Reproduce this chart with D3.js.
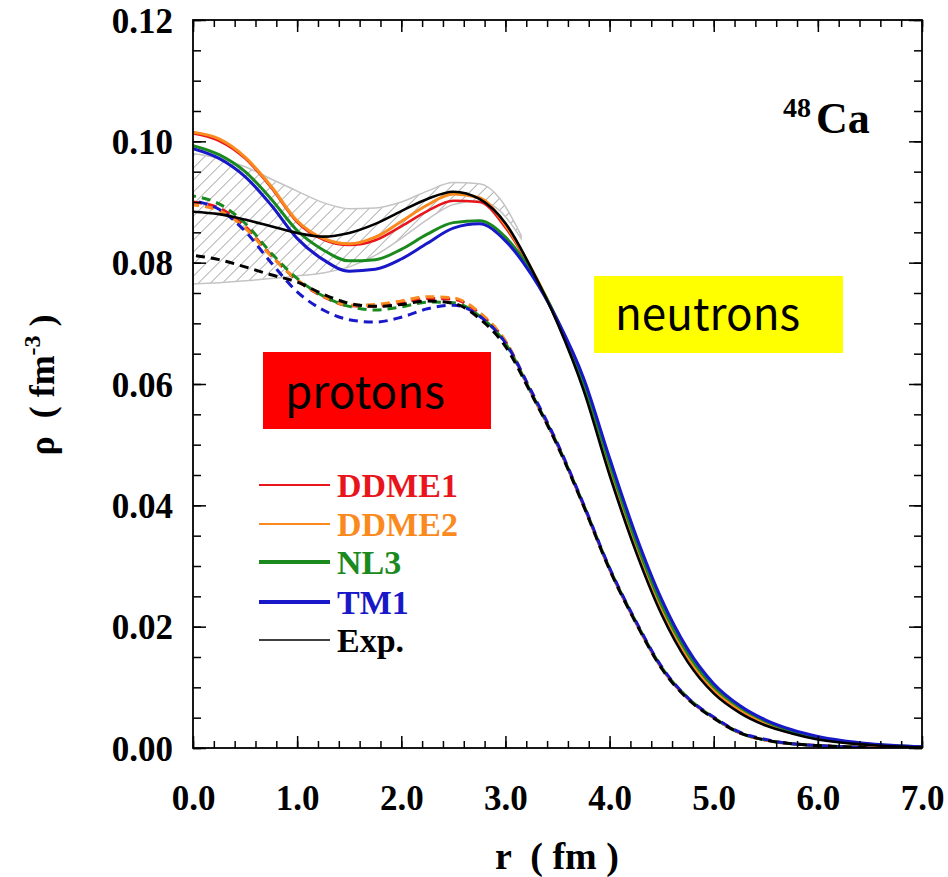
<!DOCTYPE html>
<html lang="en">
<head>
<meta charset="UTF-8">
<title>48Ca densities</title>
<script src="https://cdn.jsdelivr.net/npm/d3@7"></script>
<style>
  body { margin: 0; background: #fff; }
  .serif { font-family: "Liberation Serif", "Times New Roman", serif; font-weight: bold; }
  .tick text { font-family: "Liberation Serif", "Times New Roman", serif; font-weight: bold; font-size: 35px; fill: #000; }
</style>
</head>
<body>
<svg id="svg"></svg>
<script>
// radius grid (fm)
var rGrid = [0, 0.25, 0.5, 0.75, 1.0, 1.25, 1.5, 1.75, 2.0, 2.25, 2.5, 2.75, 3.0, 3.25,
             3.5, 3.75, 4.0, 4.25, 4.5, 4.75, 5.0, 5.25, 5.5, 5.75, 6.0, 6.5, 7.0];

// neutron densities (solid)
var nDDME1 = [0.1013, 0.1001, 0.0972, 0.0924, 0.0867, 0.0838, 0.0829, 0.0837, 0.0860, 0.0885, 0.0902, 0.0900, 0.0858, 0.0788,
              0.0702, 0.0594, 0.0457, 0.0334, 0.0229, 0.0149, 0.0095, 0.0062, 0.0040, 0.0026, 0.0016, 0.0005, 0.0001];
var nDDME2 = [0.1015, 0.1004, 0.0974, 0.0926, 0.0869, 0.0840, 0.0831, 0.0842, 0.0868, 0.0895, 0.0913, 0.0907, 0.0862, 0.0790,
              0.0703, 0.0595, 0.0458, 0.0335, 0.0230, 0.0150, 0.0096, 0.0063, 0.0041, 0.0026, 0.0016, 0.0005, 0.0001];
var nNL3   = [0.0993, 0.0978, 0.0950, 0.0905, 0.0853, 0.0821, 0.0803, 0.0805, 0.0822, 0.0847, 0.0866, 0.0869, 0.0842, 0.0785,
              0.0705, 0.0602, 0.0468, 0.0342, 0.0236, 0.0156, 0.0101, 0.0067, 0.0044, 0.0028, 0.0017, 0.0006, 0.0002];
var nTM1   = [0.0988, 0.0972, 0.0942, 0.0895, 0.0840, 0.0805, 0.0786, 0.0789, 0.0806, 0.0832, 0.0857, 0.0864, 0.0836, 0.0780,
              0.0705, 0.0610, 0.0478, 0.0352, 0.0245, 0.0163, 0.0106, 0.0070, 0.0046, 0.0030, 0.0019, 0.0007, 0.0002];
var nExp   = [0.0884, 0.0880, 0.0871, 0.0860, 0.0849, 0.0843, 0.0849, 0.0864, 0.0885, 0.0905, 0.0917, 0.0905, 0.0865, 0.0790,
              0.0700, 0.0590, 0.0450, 0.0325, 0.0220, 0.0142, 0.0090, 0.0058, 0.0037, 0.0024, 0.0014, 0.0005, 0.0001];

// proton densities (dashed)
var pDDME1 = [0.0900, 0.0890, 0.0860, 0.0812, 0.0771, 0.0744, 0.0729, 0.0728, 0.0734, 0.0741, 0.0740, 0.0716, 0.0670, 0.0585,
              0.0500, 0.0400, 0.0295, 0.0208, 0.0132, 0.0082, 0.0050, 0.0025, 0.0013, 0.0007, 0.0004, 0.0001, 0.0000];
var pDDME2 = [0.0895, 0.0886, 0.0857, 0.0811, 0.0772, 0.0745, 0.0730, 0.0731, 0.0737, 0.0744, 0.0742, 0.0718, 0.0671, 0.0586,
              0.0500, 0.0400, 0.0295, 0.0208, 0.0132, 0.0082, 0.0050, 0.0025, 0.0013, 0.0007, 0.0004, 0.0001, 0.0000];
var pNL3   = [0.0910, 0.0897, 0.0865, 0.0816, 0.0774, 0.0745, 0.0728, 0.0722, 0.0727, 0.0735, 0.0734, 0.0712, 0.0667, 0.0585,
              0.0500, 0.0401, 0.0296, 0.0209, 0.0133, 0.0083, 0.0050, 0.0025, 0.0013, 0.0007, 0.0004, 0.0001, 0.0000];
var pTM1   = [0.0902, 0.0888, 0.0852, 0.0800, 0.0752, 0.0722, 0.0706, 0.0702, 0.0710, 0.0724, 0.0730, 0.0712, 0.0668, 0.0588,
              0.0502, 0.0402, 0.0297, 0.0210, 0.0134, 0.0083, 0.0051, 0.0026, 0.0014, 0.0007, 0.0004, 0.0001, 0.0000];
var pExp   = [0.0812, 0.0805, 0.0793, 0.0780, 0.0768, 0.0748, 0.0733, 0.0728, 0.0731, 0.0737, 0.0733, 0.0708, 0.0662, 0.0583,
              0.0498, 0.0399, 0.0294, 0.0207, 0.0131, 0.0081, 0.0049, 0.0025, 0.0013, 0.0007, 0.0004, 0.0001, 0.0000];

// experimental neutron band (hatched)
var bandR     = [0, 0.25, 0.5, 0.75, 1.0, 1.25, 1.5, 1.75, 2.0, 2.25, 2.5, 2.75, 2.95, 3.15];
var bandUpper = [0.0980, 0.0972, 0.0958, 0.0938, 0.0918, 0.0899, 0.0889, 0.0890, 0.0900, 0.0918, 0.0932, 0.0930, 0.0905, 0.0845];
var bandLower = [0.0765, 0.0767, 0.0770, 0.0774, 0.0778, 0.0783, 0.0793, 0.0812, 0.0840, 0.0871, 0.0896, 0.0902, 0.0885, 0.0840];

var models = ["DDME1", "DDME2", "NL3", "TM1", "Exp."];
var colors = ["#e8161c", "#fb8a1e", "#1a8a1e", "#1818c8", "#000000"];
var neutrons = [nDDME1, nDDME2, nNL3, nTM1, nExp];
var protons = [pDDME1, pDDME2, pNL3, pTM1, pExp];

var xTicks = [0, 1, 2, 3, 4, 5, 6, 7];
var yTicks = [0, 0.02, 0.04, 0.06, 0.08, 0.10, 0.12];

var w = 948, h = 877,
    pLeft = 193, pRight = 922, pTop = 20, pBottom = 748;

var svg = d3.select("#svg").attr("width", w).attr("height", h);

var x = d3.scaleLinear().domain([0, 7]).range([pLeft, pRight]);
var y = d3.scaleLinear().domain([0, 0.12]).range([pBottom, pTop]);

var defs = svg.append("defs");
defs.append("clipPath").attr("id", "clip")
  .append("rect").attr("x", pLeft).attr("y", pTop)
  .attr("width", pRight - pLeft).attr("height", pBottom - pTop);
var pat = defs.append("pattern").attr("id", "hatch")
  .attr("patternUnits", "userSpaceOnUse")
  .attr("width", 8.5).attr("height", 8.5)
  .attr("patternTransform", "rotate(45)");
pat.append("line").attr("x1", 0).attr("y1", 0).attr("x2", 0).attr("y2", 8.5)
  .attr("stroke", "#8a8a8a").attr("stroke-width", 1.3);

var plot = svg.append("g").attr("clip-path", "url(#clip)");

// hatched band
var area = d3.area()
  .x(function(d, i) { return x(bandR[i]); })
  .y0(function(d, i) { return y(bandLower[i]); })
  .y1(function(d, i) { return y(bandUpper[i]); })
  .curve(d3.curveMonotoneX);
plot.append("path").datum(bandR)
  .attr("d", area)
  .attr("fill", "url(#hatch)")
  .attr("stroke", "#c4c4c4").attr("stroke-width", 1.5);

var line = d3.line()
  .x(function(d, i) { return x(rGrid[i]); })
  .y(function(d) { return y(d); })
  .curve(d3.curveMonotoneX);

// protons: dashed
protons.forEach(function(vals, i) {
  plot.append("path").datum(vals)
    .attr("d", line)
    .attr("fill", "none")
    .attr("stroke", colors[i])
    .attr("stroke-width", 3)
    .attr("stroke-dasharray", "9,6")
    .attr("stroke-dashoffset", i * 3);
});

// neutrons: solid
var widths = [2.6, 3, 3, 3, 2.6];
neutrons.forEach(function(vals, i) {
  plot.append("path").datum(vals)
    .attr("d", line)
    .attr("fill", "none")
    .attr("stroke", colors[i])
    .attr("stroke-width", widths[i]);
});

// axes (ticks point inward)
function majorMinor(axisFn, scale, major, minor, fmt, pos, majorLen, minorLen, showLabels) {
  var gMinor = svg.append("g").attr("transform", pos)
    .call(axisFn(scale).tickValues(minor).tickSize(-minorLen).tickFormat(""));
  gMinor.select(".domain").remove();
  var gMajor = svg.append("g").attr("transform", pos)
    .call(axisFn(scale).tickValues(major).tickSize(-majorLen).tickFormat(showLabels ? fmt : ""));
  gMajor.select(".domain").remove();
  svg.selectAll(".tick line").attr("stroke", "#000").attr("stroke-width", 1.5);
  return gMajor;
}

var xMinor = d3.range(0, 36).map(function(i) { return i * 0.2; });
var yMinor = d3.range(0, 25).map(function(i) { return i * 0.005; });

var gx = majorMinor(d3.axisBottom, x, xTicks, xMinor, d3.format(".1f"), "translate(0," + pBottom + ")", 12, 7, true);
gx.selectAll("text").attr("y", 37).attr("dy", "0.71em");
majorMinor(d3.axisTop, x, xTicks, xMinor, null, "translate(0," + pTop + ")", 12, 7, false);
var gy = majorMinor(d3.axisLeft, y, yTicks, yMinor, d3.format(".2f"), "translate(" + pLeft + ",0)", 13, 8, true);
gy.selectAll("text").attr("x", -20).attr("dy", "0.35em");
majorMinor(d3.axisRight, y, yTicks, yMinor, null, "translate(" + pRight + ",0)", 13, 8, false);

svg.append("rect")
  .attr("x", pLeft).attr("y", pTop)
  .attr("width", pRight - pLeft).attr("height", pBottom - pTop)
  .attr("fill", "none").attr("stroke", "#000").attr("stroke-width", 1.8);

// axis titles
svg.append("text").attr("class", "serif")
  .attr("x", 557).attr("y", 869)
  .attr("text-anchor", "middle")
  .style("font-size", "38px")
  .attr("xml:space", "preserve")
  .text("r  ( fm )");

var yl = svg.append("text").attr("class", "serif")
  .attr("transform", "translate(54,385) rotate(-90)")
  .attr("text-anchor", "middle")
  .style("font-size", "36px")
  .attr("xml:space", "preserve");
yl.append("tspan").text("ρ  ( fm");
yl.append("tspan").attr("dy", -14).style("font-size", "24px").text("-3");
yl.append("tspan").attr("dy", 14).text(" )");

// nucleus label
svg.append("text").attr("class", "serif")
  .attr("x", 783).attr("y", 117)
  .style("font-size", "28px").text("48");
svg.append("text").attr("class", "serif")
  .attr("x", 816).attr("y", 133)
  .style("font-size", "44px").text("Ca");

// legend
var legendY = [485, 524, 562, 602, 640];
var legendW = [2, 2, 4, 4, 1.5];
models.forEach(function(m, i) {
  svg.append("line")
    .attr("x1", 259).attr("x2", 330)
    .attr("y1", legendY[i]).attr("y2", legendY[i])
    .attr("stroke", colors[i]).attr("stroke-width", legendW[i]);
  svg.append("text").attr("class", "serif")
    .attr("x", 337).attr("y", legendY[i] + 12)
    .style("font-size", "34px")
    .attr("fill", colors[i])
    .text(m);
});

// highlight boxes
svg.append("rect").attr("x", 263).attr("y", 352).attr("width", 228).attr("height", 77).attr("fill", "#ff0000");
svg.append("text").attr("x", 285).attr("y", 408)
  .style("font-family", "'Noto Sans CJK JP', 'Noto Sans', sans-serif")
  .style("font-size", "44px").text("protons");
svg.append("rect").attr("x", 594).attr("y", 276).attr("width", 249).attr("height", 77).attr("fill", "#ffff00");
svg.append("text").attr("x", 615).attr("y", 330)
  .style("font-family", "'Noto Sans CJK JP', 'Noto Sans', sans-serif")
  .style("font-size", "44px").text("neutrons");
</script>
</body>
</html>
